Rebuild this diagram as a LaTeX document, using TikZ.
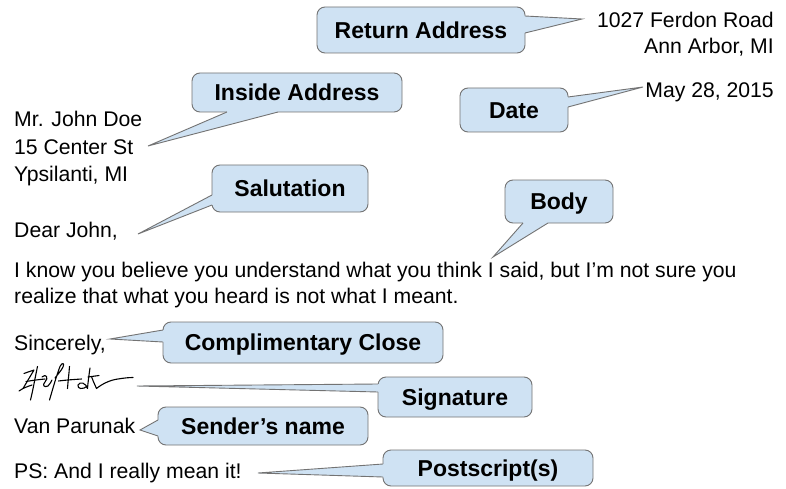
\documentclass[tikz,border=0pt]{standalone}
\usepackage{fontspec}
\setmainfont{Liberation Sans}
\usetikzlibrary{calc}
\definecolor{cfill}{HTML}{CFE2F3}
\definecolor{cline}{RGB}{115,115,115}
\tikzset{
  txt/.style={inner sep=0pt, font=\fontsize{21.2}{26}\selectfont},
  lbl/.style={inner sep=0pt, fill=cfill, draw=cline, line width=0.9pt, rounded corners=8pt,
    font=\fontsize{23}{27}\selectfont\bfseries, text height=16.5pt, text depth=0pt},
  ptrfill/.style={fill=cfill},
  ptrline/.style={draw=cline, line width=0.9pt, line join=miter},
  sigpen/.style={draw=black, line width=1.1pt, line cap=round, line join=round},
}
\newcommand\pointer[4]{%
  \fill[ptrfill] ($(#1)+(#4)$) -- (#1) -- (#2) -- (#3) -- ($(#3)+(#4)$) -- cycle;
  \draw[ptrline] (#1) -- (#2) -- (#3);
}
\begin{document}
\begin{tikzpicture}[x=1pt,y=-1pt]
\useasboundingbox (0,0) rectangle (786,489);
\fill[white] (0,0) rectangle (786,489);

% letter text
\node[txt, anchor=base east] (ra1) at (774,28) {1027 Ferdon Road};
\node[txt, anchor=base east] (ra2) at (774,54) {Ann Arbor, MI};
\node[txt, anchor=base east] (dt) at (774,98) {May 28, 2015};
\node[txt, anchor=base west] (ia1) at (14,127) {Mr. John Doe};
\node[txt, anchor=base west] (ia2) at (14,154) {15 Center St};
\node[txt, anchor=base west] (ia3) at (14,181) {Ypsilanti, MI};
\node[txt, anchor=base west] (dear) at (14,237) {Dear John,};
\node[txt, anchor=base west] (b1) at (14,277) {I know you believe you understand what you think I said, but I’m not sure you};
\node[txt, anchor=base west] (b2) at (14,303) {realize that what you heard is not what I meant.};
\node[txt, anchor=base west] (sinc) at (14,350) {Sincerely,};
\node[txt, anchor=base west] (van) at (14,433) {Van Parunak};
\node[txt, anchor=base west] (ps) at (14,478) {PS: And I really mean it!};

% signature scribble
\draw[sigpen] (24,373.5) .. controls (28,372) and (31,371) .. (34,370) -- (23,388.5) .. controls (26,387) and (29,386) .. (32,385) (23,388.5) -- (19,391);
\draw[sigpen] (37.5,366.5) .. controls (35,378) and (33,390) .. (30.5,400);
\draw[sigpen] (26,381.5) .. controls (32,380.5) and (39,379.5) .. (45,379);
\draw[sigpen] (42,377) .. controls (46,373) and (49,378) .. (45,382) .. controls (42,385) and (44,388) .. (48,386) .. controls (50,384) and (51,382) .. (52,380);
\draw[sigpen] (49.5,400) .. controls (53,388) and (57,374) .. (60,366.5) .. controls (62,362) and (65,363) .. (63,367) .. controls (61,371) and (58,374) .. (55,378);
\draw[sigpen] (69.5,366.5) .. controls (69,374) and (68,381) .. (67.5,388.5);
\draw[sigpen] (58.5,381) .. controls (66,380) and (74,379.5) .. (81.5,379);
\draw[sigpen] (90,368) .. controls (89,375) and (88,382) .. (87.5,388.5) .. controls (86,383) and (80,381) .. (78,385) .. controls (77,389) and (83,390) .. (87.5,386);
\draw[sigpen] (91.5,376.5) .. controls (93,381) and (95,385) .. (96.5,388.5) .. controls (102,384) and (110,380) .. (118,379) .. controls (124,378) and (129,377.5) .. (133,377.5);
\draw[sigpen] (88,377) -- (99,375.5);

% callout boxes
\node[lbl, minimum width=208pt, minimum height=46pt] (ret) at (421,30) {Return Address};
\node[lbl, minimum width=210pt, minimum height=39pt] (ins) at (297,92.5) {Inside Address};
\node[lbl, minimum width=108pt, minimum height=44pt] (date) at (514,110) {Date};
\node[lbl, minimum width=156pt, minimum height=47pt] (sal) at (290,188.5) {Salutation};
\node[lbl, minimum width=108pt, minimum height=43pt] (body) at (559,201.5) {Body};
\node[lbl, minimum width=280pt, minimum height=41pt] (cc) at (303,342.5) {Complimentary Close};
\node[lbl, minimum width=154pt, minimum height=40pt] (sig) at (455,397) {Signature};
\node[lbl, minimum width=210pt, minimum height=38pt] (sn) at (263,426) {Sender’s name};
\node[lbl, minimum width=210pt, minimum height=36pt] (pss) at (488,468) {Postscript(s)};

% pointer ends
\coordinate (ret-a) at (525,16);   \coordinate (ret-b) at (525,33);   \coordinate (ret-t) at (582,19);
\coordinate (ins-a) at (227,112);  \coordinate (ins-b) at (278,112);  \coordinate (ins-t) at (148,146);
\coordinate (date-a) at (568,97);  \coordinate (date-b) at (568,107); \coordinate (date-t) at (643,87);
\coordinate (sal-a) at (212,195);  \coordinate (sal-b) at (212,205);  \coordinate (sal-t) at (138,234);
\coordinate (body-a) at (523,223); \coordinate (body-b) at (548,223); \coordinate (body-t) at (493,257);
\coordinate (cc-a) at (163,330);   \coordinate (cc-b) at (163,342);   \coordinate (cc-t) at (110,339);
\coordinate (sig-a) at (378,384);  \coordinate (sig-b) at (378,392);  \coordinate (sig-t) at (137,386);
\coordinate (sn-a) at (158,420);   \coordinate (sn-b) at (158,436);   \coordinate (sn-t) at (140,430);
\coordinate (ps-a) at (383,464);   \coordinate (ps-b) at (383,477);   \coordinate (ps-t) at (258,473);

\pointer{ret-a}{ret-t}{ret-b}{-2.5,0}
\pointer{ins-a}{ins-t}{ins-b}{0,-2.5}
\pointer{date-a}{date-t}{date-b}{-2.5,0}
\pointer{sal-a}{sal-t}{sal-b}{2.5,0}
\pointer{body-a}{body-t}{body-b}{0,-2.5}
\pointer{cc-a}{cc-t}{cc-b}{2.5,0}
\pointer{sig-a}{sig-t}{sig-b}{2.5,0}
\pointer{sn-a}{sn-t}{sn-b}{2.5,0}
\pointer{ps-a}{ps-t}{ps-b}{2.5,0}
\end{tikzpicture}
\end{document}
